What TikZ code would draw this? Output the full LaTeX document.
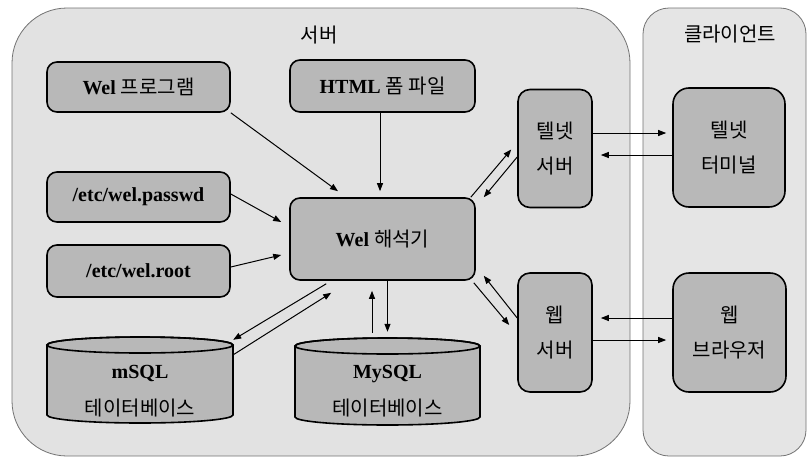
\documentclass[tikz,border=0pt]{standalone}
\usepackage{fontspec}
\setmainfont{Liberation Serif}
\newfontfamily\kr{Noto Sans CJK KR}
\usetikzlibrary{arrows.meta}
\definecolor{bgfill}{gray}{0.885}
\definecolor{clfill}{gray}{0.9}
\definecolor{boxfill}{gray}{0.72}
\definecolor{edge}{gray}{0.45}
\begin{document}
\begin{tikzpicture}[x=1pt,y=1pt,
  container/.style={draw=edge, line width=0.8pt, inner sep=0pt},
  box/.style={draw=black, line width=1.6pt, fill=boxfill, inner sep=0pt, align=center,
    font=\fontsize{20}{35}\selectfont},
  wide/.style={box, rounded corners=10pt},
  tall/.style={box, rounded corners=12pt, minimum width=74pt, minimum height=118pt},
  tallc/.style={box, rounded corners=16pt},
  cyl/.style={draw=black, line width=1.6pt, fill=boxfill},
  title/.style={font=\kr\fontsize{20}{22}\selectfont, inner sep=0pt},
  arr/.style={-{Triangle[length=8pt,width=6pt]}, line width=1pt, draw=black},
]
\useasboundingbox (0,0) rectangle (808,-458);
\fill[white] (0,0) rectangle (808,-458);

% containers
\node[container, fill=bgfill, rounded corners=55pt, minimum width=618pt, minimum height=448pt] (server) at (321,-232) {};
\node[container, fill=clfill, rounded corners=26pt, minimum width=163pt, minimum height=448pt] (client) at (724.5,-232) {};
\node[title] (servert) at (319,-35) {서버};
\node[title] (clientt) at (730,-34) {클라이언트};

% rectangular boxes
\node[wide, minimum width=183pt, minimum height=50pt] (wp) at (138.5,-87) {\textbf{Wel} {\kr 프로그램}};
\node[wide, minimum width=185pt, minimum height=52pt] (html) at (382.5,-86) {\textbf{HTML} {\kr 폼 파일}};
\node[wide, minimum width=183pt, minimum height=50pt] (pw) at (138.5,-197) {\textbf{/etc/wel.passwd}};
\node[wide, minimum width=183pt, minimum height=52pt] (root) at (138.5,-271) {\textbf{/etc/wel.root}};
\node[wide, minimum width=185pt, minimum height=82pt] (hs) at (382.5,-239) {\textbf{Wel} {\kr 해석기}};

\node[tall] (ts) at (555,-148.5) {\kr 텔넷\\\kr 서버};
\node[tall, minimum height=119pt] (ws) at (555,-332.5) {\kr 웹\\\kr 서버};
\node[tallc, minimum width=112pt, minimum height=119pt] (tt) at (729,-147.5) {\kr 텔넷\\\kr 터미널};
\node[tallc, minimum width=113pt, minimum height=119pt] (wb) at (729.5,-332.5) {\kr 웹\\\kr 브라우저};

% cylinders
\path[cyl] (47,-345) -- (47,-415) arc[start angle=180,end angle=360,x radius=93,y radius=8]
  -- (233,-345) arc[start angle=0,end angle=180,x radius=93,y radius=8] -- cycle;
\draw[line width=1.6pt] (140,-345) ellipse[x radius=93,y radius=8];
\path[cyl] (295,-346) -- (295,-417) arc[start angle=180,end angle=360,x radius=92.5,y radius=8]
  -- (480,-346) arc[start angle=0,end angle=180,x radius=92.5,y radius=8] -- cycle;
\draw[line width=1.6pt] (387.5,-346) ellipse[x radius=92.5,y radius=8];

\node[minimum width=186pt, minimum height=86pt, inner sep=0pt] (msql) at (140,-380) {};
\node[minimum width=185pt, minimum height=87pt, inner sep=0pt] (mysql) at (387.5,-381.5) {};
\node[align=center, inner sep=0pt, font=\fontsize{20}{37}\selectfont] (msqlt) at (140,-391) {\textbf{mSQL}\\{\kr 테이터베이스}};
\node[align=center, inner sep=0pt, font=\fontsize{20}{37}\selectfont] (mysqlt) at (387.5,-391) {\textbf{MySQL}\\{\kr 테이터베이스}};

% connectors
\draw[arr] (wp.south east) -- ([xshift=-44.5pt,yshift=6pt]hs.north);
\draw[arr] ([xshift=-2.5pt]html.south) -- ([xshift=-2.5pt,yshift=6pt]hs.north);
\draw[arr] ([yshift=3pt]pw.east) -- ([xshift=-8pt,yshift=17pt]hs.west);
\draw[arr] ([yshift=4pt]root.east) -- ([xshift=-8pt,yshift=-16pt]hs.west);

\draw[arr] ([xshift=37pt,yshift=-3pt]hs.south west) -- ([yshift=-3pt]msql.north east);
\draw[arr] ([yshift=-18pt]msql.north east) -- ([xshift=42pt,yshift=-12pt]hs.south west);

\draw[arr] ([xshift=-15.5pt,yshift=5pt]mysql.north) -- ([xshift=-10.5pt,yshift=-10pt]hs.south);
\draw[arr] ([xshift=5pt]hs.south) -- ([xshift=0pt,yshift=6pt]mysql.north);

\draw[arr] ([xshift=-5pt]hs.north east) -- ([xshift=-6pt,yshift=-1pt]ts.west);
\draw[arr] ([yshift=-8.5pt]ts.west) -- ([xshift=8pt]hs.north east);
\draw[arr] ([xshift=-2pt,yshift=-2pt]hs.south east) -- ([xshift=-8pt,yshift=7.5pt]ws.west);
\draw[arr] ([yshift=14.5pt]ws.west) -- ([xshift=8pt,yshift=5pt]hs.south east);

\draw[arr] ([yshift=15.5pt]ts.east) -- ([xshift=-6pt,yshift=14.5pt]tt.west);
\draw[arr] ([yshift=-7.5pt]tt.west) -- ([xshift=8pt,yshift=-6.5pt]ts.east);
\draw[arr] ([yshift=14.5pt]wb.west) -- ([xshift=8pt,yshift=14.5pt]ws.east);
\draw[arr] ([yshift=-7.5pt]ws.east) -- ([xshift=-6pt,yshift=-7.5pt]wb.west);
\end{tikzpicture}
\end{document}
